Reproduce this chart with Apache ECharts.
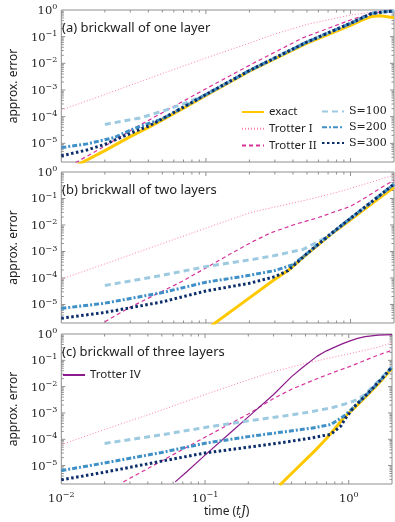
<!DOCTYPE html>
<html lang="en">
<head>
<meta charset="UTF-8">
<title>approx. error vs time</title>
<script src="https://cdn.jsdelivr.net/npm/echarts@6/dist/echarts.min.js"></script>
<style>
  html, body { margin: 0; padding: 0; background: #ffffff; }
  #main { width: 395px; height: 522px; }
</style>
</head>
<body>
<div id="main"></div>
<script>
// ---- data: [time tJ, approx. error] ----
// (a) brickwall of one layer
var aExact    = [[0.0125,1.41e-6],[0.02,5.37e-6],[0.03,1.78e-5],[0.041,4.22e-5],[0.05,7.59e-5],[0.07,2.09e-4],[0.1,6.31e-4],[0.2,5.13e-3],[0.5,5.75e-2],[1,0.263],[1.2,0.417],[1.4,0.575],[1.6,0.603],[1.8,0.562],[2,0.513]];
var aTrotter1 = [[0.01,1.78e-4],[0.02,6.76e-4],[0.05,4.17e-3],[0.1,1.58e-2],[0.2,5.75e-2],[0.3,0.126],[0.5,0.288],[1,0.646],[1.5,0.871],[2,1.0]];
var aTrotter2 = [[0.0125,1.86e-6],[0.02,7.94e-6],[0.0334,4.22e-5],[0.05,1.41e-4],[0.1,1.12e-3],[0.212,1.0e-2],[0.47,9.12e-2],[1,0.422],[1.4,0.75],[2,0.955]];
var aS100     = [[0.02,5.13e-5],[0.035,8.91e-5],[0.053,1.78e-4],[0.07,3.02e-4],[0.1,6.76e-4],[0.2,5.37e-3],[0.5,6.31e-2],[1,0.316],[1.4,0.741],[1.7,0.851],[2,0.912]];
var aS200     = [[0.01,6.92e-6],[0.015,9.55e-6],[0.023,1.62e-5],[0.032,3.63e-5],[0.05,8.32e-5],[0.07,2.29e-4],[0.1,6.76e-4],[0.2,5.37e-3],[0.5,6.31e-2],[1,0.316],[1.4,0.741],[1.7,0.851],[2,0.912]];
var aS300     = [[0.01,3.39e-6],[0.015,5.62e-6],[0.02,9.12e-6],[0.032,2.75e-5],[0.041,4.68e-5],[0.05,8.32e-5],[0.07,2.29e-4],[0.1,6.76e-4],[0.2,5.37e-3],[0.5,6.31e-2],[1,0.316],[1.4,0.741],[1.7,0.851],[2,0.912]];

// (b) brickwall of two layers
var bExact    = [[0.109,1.58e-6],[0.2,1.78e-5],[0.3,8.91e-5],[0.37,1.91e-4],[0.5,7.94e-4],[0.73,4.37e-3],[1,1.58e-2],[1.5,8.32e-2],[2,0.263]];
var bTrotter1 = [[0.01,9.12e-5],[0.02,3.39e-4],[0.05,2.0e-3],[0.1,7.59e-3],[0.2,2.88e-2],[0.28,4.37e-2],[0.5,8.91e-2],[0.79,0.166],[1,0.24],[1.5,0.468],[2,0.759]];
var bTrotter2 = [[0.02,2.24e-6],[0.03,7.94e-6],[0.05,3.16e-5],[0.07,7.94e-5],[0.1,2.40e-4],[0.15,8.51e-4],[0.212,2.40e-3],[0.28,5.01e-3],[0.4,1.0e-2],[0.6,1.91e-2],[0.79,3.24e-2],[1,5.01e-2],[1.3,0.117],[1.6,0.24],[2,0.49]];
var bS100     = [[0.02,5.25e-5],[0.05,1.26e-4],[0.1,2.69e-4],[0.2,4.79e-4],[0.3,7.08e-4],[0.47,1.20e-3],[0.64,2.88e-3],[0.73,4.57e-3],[1,1.78e-2],[1.5,0.1],[2,0.347]];
var bS200     = [[0.01,7.08e-6],[0.02,1.12e-5],[0.05,2.82e-5],[0.1,6.92e-5],[0.2,1.26e-4],[0.3,1.91e-4],[0.4,3.16e-4],[0.5,8.32e-4],[0.73,4.57e-3],[1,1.78e-2],[1.5,0.1],[2,0.347]];
var bS300     = [[0.01,3.02e-6],[0.02,5.01e-6],[0.05,1.26e-5],[0.1,3.24e-5],[0.2,6.31e-5],[0.3,1.12e-4],[0.37,1.91e-4],[0.5,8.32e-4],[0.73,4.57e-3],[1,1.78e-2],[1.5,0.1],[2,0.347]];

// (c) brickwall of three layers
var cExact    = [[0.33,1.78e-6],[0.4,5.01e-6],[0.5,1.66e-5],[0.58,3.63e-5],[0.7,1.07e-4],[0.8,2.51e-4],[0.92,6.46e-4],[1.1,1.58e-3],[1.39,5.62e-3],[1.7,1.78e-2],[2,5.13e-2]];
var cTrotter1 = [[0.01,6.31e-5],[0.02,2.34e-4],[0.05,1.29e-3],[0.1,5.01e-3],[0.2,1.82e-2],[0.3,3.72e-2],[0.5,7.59e-2],[0.8,0.135],[1.2,0.219],[1.6,0.316],[2,0.457]];
var cTrotter2 = [[0.027,2.40e-6],[0.05,1.51e-5],[0.074,4.90e-5],[0.1,1.20e-4],[0.2,9.12e-4],[0.3,3.55e-3],[0.4,7.94e-3],[0.6,2.0e-2],[0.8,3.63e-2],[1,5.62e-2],[1.3,0.1],[1.6,0.158],[2,0.24]];
var cTrotter4 = [[0.062,2.40e-6],[0.074,5.62e-6],[0.1,2.51e-5],[0.15,1.78e-4],[0.2,7.08e-4],[0.3,5.01e-3],[0.4,2.40e-2],[0.47,5.01e-2],[0.6,0.141],[0.7,0.229],[0.8,0.316],[0.9,0.42],[1,0.525],[1.15,0.68],[1.3,0.794],[1.6,0.912],[2,0.955]];
var cS100     = [[0.02,6.92e-5],[0.05,1.48e-4],[0.1,2.82e-4],[0.2,5.01e-4],[0.35,7.59e-4],[0.55,1.12e-3],[0.75,1.55e-3],[1,2.40e-3],[1.13,3.16e-3],[1.29,4.90e-3],[1.6,1.58e-2],[2,5.62e-2]];
var cS200     = [[0.01,6.46e-6],[0.02,1.26e-5],[0.05,3.16e-5],[0.1,7.08e-5],[0.2,1.26e-4],[0.35,1.91e-4],[0.55,2.63e-4],[0.75,3.63e-4],[0.92,7.41e-4],[1,1.10e-3],[1.1,1.78e-3],[1.39,6.31e-3],[1.7,2.0e-2],[2,5.62e-2]];
var cS300     = [[0.01,2.88e-6],[0.02,5.62e-6],[0.05,1.48e-5],[0.1,3.02e-5],[0.2,5.01e-5],[0.35,7.59e-5],[0.55,1.12e-4],[0.75,1.55e-4],[0.88,3.16e-4],[0.95,6.31e-4],[1.1,1.78e-3],[1.39,6.31e-3],[1.7,2.0e-2],[2,5.62e-2]];

var panelTitles = ['(a) brickwall of one layer', '(b) brickwall of two layers', '(c) brickwall of three layers'];

// axis ticks (log axes, pgfplots style: inside, on all four sides)
var xMajorTicks = [0.1, 1];
var xMinorTicks = [0.02,0.03,0.04,0.05,0.06,0.07,0.08,0.09,0.2,0.3,0.4,0.5,0.6,0.7,0.8,0.9];
var yMajorTicks = [1e-5,1e-4,1e-3,1e-2,1e-1];
var yMinorTicks = [3e-6,4e-6,5e-6,6e-6,7e-6,8e-6,9e-6,
                   2e-5,3e-5,4e-5,5e-5,6e-5,7e-5,8e-5,9e-5,
                   2e-4,3e-4,4e-4,5e-4,6e-4,7e-4,8e-4,9e-4,
                   2e-3,3e-3,4e-3,5e-3,6e-3,7e-3,8e-3,9e-3,
                   2e-2,3e-2,4e-2,5e-2,6e-2,7e-2,8e-2,9e-2,
                   0.2,0.3,0.4,0.5,0.6,0.7,0.8,0.9];

var X_MIN = 0.01, X_MAX = 2, Y_MIN = 2e-6, Y_MAX = 1;
var frameColor = '#8f8f8f';

var chart = echarts.init(document.getElementById('main'));

function powLabel(v) {
    var e = Math.log10(v);
    var r = Math.round(e);
    if (Math.abs(e - r) > 1e-6) return '';
    return '{b|10}{e|' + (r < 0 ? '\u2212' + (-r) : r) + '}';
}
var powRich = {
    b: { fontFamily: 'DejaVu Serif', fontSize: 11.5, color: '#222', verticalAlign: 'bottom' },
    e: { fontFamily: 'DejaVu Serif', fontSize: 8, color: '#222', verticalAlign: 'bottom', padding: [0, 0, 6, 0] }
};

var grids = [
    { left: 50, top: 10, width: 344, height: 152 },
    { left: 50, top: 172, width: 344, height: 151 },
    { left: 50, top: 334, width: 344, height: 150 }
];

var styles = {
    'exact':      { color: '#ffc800', width: 3,   type: 'solid' },
    'Trotter I':  { color: '#ff7fab', width: 1,   type: [1, 2] },
    'Trotter II': { color: '#d6329a', width: 1.2, type: [4, 3] },
    'Trotter IV': { color: '#8b1a8b', width: 1.2, type: 'solid' },
    'S=100':      { color: '#9ecae1', width: 3,   type: [6, 4] },
    'S=200':      { color: '#4090c8', width: 3,   type: [5, 2, 2, 2] },
    'S=300':      { color: '#0b2d69', width: 3,   type: [2.5, 2.5] }
};

function line(name, data, gi) {
    var s = styles[name];
    return {
        name: name, type: 'line', xAxisIndex: gi, yAxisIndex: gi,
        data: data, showSymbol: false, symbol: 'none',
        color: s.color,
        lineStyle: { color: s.color, width: s.width, type: s.type, cap: 'butt', join: 'round' },
        emphasis: { disabled: true }
    };
}

function seg(x1, y1, x2, y2) {
    return { type: 'line', shape: { x1: x1, y1: y1, x2: x2, y2: y2 },
             style: { stroke: frameColor, lineWidth: 1 } };
}

function tickSeries(gi) {
    var xd = xMajorTicks.map(function (v) { return [v, 1e-3, 4]; })
        .concat(xMinorTicks.map(function (v) { return [v, 1e-3, 2.5]; }));
    var yd = yMajorTicks.map(function (v) { return [0.1, v, 4]; })
        .concat(yMinorTicks.map(function (v) { return [0.1, v, 2.5]; }));
    return [{
        type: 'custom', xAxisIndex: gi, yAxisIndex: gi, silent: true, clip: false, z: 1,
        data: xd, encode: { x: 0, y: 1 },
        renderItem: function (params, api) {
            var v = api.value(0), len = api.value(2);
            var b = api.coord([v, Y_MIN]), t = api.coord([v, Y_MAX]);
            return { type: 'group', children: [seg(b[0], b[1], b[0], b[1] - len), seg(t[0], t[1], t[0], t[1] + len)] };
        }
    }, {
        type: 'custom', xAxisIndex: gi, yAxisIndex: gi, silent: true, clip: false, z: 1,
        data: yd, encode: { x: 0, y: 1 },
        renderItem: function (params, api) {
            var v = api.value(1), len = api.value(2);
            var l = api.coord([X_MIN, v]), r = api.coord([X_MAX, v]);
            return { type: 'group', children: [seg(l[0], l[1], l[0] + len, l[1]), seg(r[0], r[1], r[0] - len, r[1])] };
        }
    }];
}

var xAxes = [], yAxes = [], titles = [];
for (var i = 0; i < 3; i++) {
    xAxes.push({
        type: 'log', logBase: 10, gridIndex: i, min: X_MIN, max: X_MAX,
        axisLine: { show: false }, axisTick: { show: false }, splitLine: { show: false },
        axisLabel: { show: i === 2, formatter: powLabel, rich: powRich, margin: 7 },
        name: i === 2 ? '{n|time (}{i|tJ}{n|)}' : '',
        nameLocation: 'middle', nameGap: 21,
        nameTextStyle: {
            rich: {
                n: { fontFamily: 'Noto Sans', fontSize: 12, color: '#222' },
                i: { fontFamily: 'DejaVu Serif', fontStyle: 'italic', fontSize: 12, color: '#222' }
            }
        }
    });
    yAxes.push({
        type: 'log', logBase: 10, gridIndex: i, min: Y_MIN, max: Y_MAX,
        axisLine: { show: false }, axisTick: { show: false }, splitLine: { show: false },
        axisLabel: { formatter: powLabel, rich: powRich, margin: 4 },
        name: 'approx. error', nameLocation: 'middle', nameGap: 38, nameRotate: 90,
        nameTextStyle: { fontFamily: 'Noto Sans', fontSize: 12, color: '#222' }
    });
    titles.push({
        text: panelTitles[i], left: 62, top: grids[i].top + 12, padding: 0,
        textStyle: { fontFamily: 'Noto Sans', fontWeight: 'normal', fontSize: 13, color: '#222' }
    });
}

var series = [
    line('exact', aExact, 0), line('Trotter I', aTrotter1, 0), line('Trotter II', aTrotter2, 0),
    line('S=100', aS100, 0), line('S=200', aS200, 0), line('S=300', aS300, 0),
    line('exact', bExact, 1), line('Trotter I', bTrotter1, 1), line('Trotter II', bTrotter2, 1),
    line('S=100', bS100, 1), line('S=200', bS200, 1), line('S=300', bS300, 1),
    line('exact', cExact, 2), line('Trotter I', cTrotter1, 2), line('Trotter II', cTrotter2, 2),
    line('Trotter IV', cTrotter4, 2),
    line('S=100', cS100, 2), line('S=200', cS200, 2), line('S=300', cS300, 2)
].concat(tickSeries(0), tickSeries(1), tickSeries(2));

var legendBase = {
    orient: 'vertical', padding: 0, itemWidth: 22, itemHeight: 12, itemGap: 4.7,
    selectedMode: false,
    itemStyle: { opacity: 0 }
};

chart.setOption({
    animation: false,
    backgroundColor: '#ffffff',
    title: titles,
    grid: grids.map(function (g) {
        return { left: g.left, top: g.top, width: g.width, height: g.height,
                 show: true, borderColor: frameColor, borderWidth: 1, backgroundColor: 'transparent' };
    }),
    legend: [
        Object.assign({}, legendBase, { data: ['exact', 'Trotter I', 'Trotter II'], left: 241, top: 106,
            textStyle: { fontFamily: 'Noto Sans', fontSize: 11.5, color: '#222' } }),
        Object.assign({}, legendBase, { data: ['S=100', 'S=200', 'S=300'], left: 321, top: 106,
            textStyle: { fontFamily: 'DejaVu Serif', fontSize: 11, color: '#222' } }),
        Object.assign({}, legendBase, { data: ['Trotter IV'], left: 62, top: 369,
            textStyle: { fontFamily: 'Noto Sans', fontSize: 11.5, color: '#222' } })
    ],
    xAxis: xAxes,
    yAxis: yAxes,
    series: series
});
</script>
</body>
</html>
